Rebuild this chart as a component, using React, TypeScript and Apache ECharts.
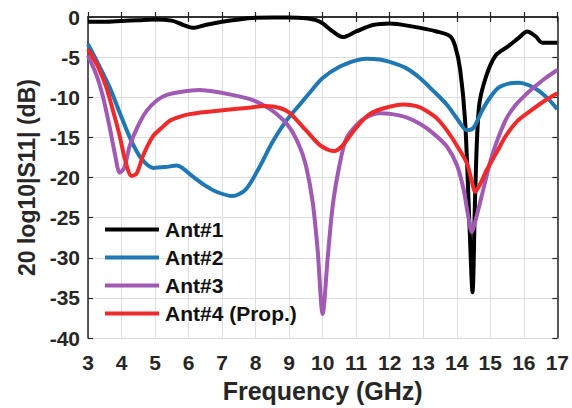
import React, { useEffect, useRef } from "react";
import * as echarts from "echarts";

const seriesNames = ["Ant#1", "Ant#2", "Ant#3", "Ant#4 (Prop.)"];
const seriesColors = ["#000000", "#1f77b4", "#a05ab4", "#ee2a2a"];

const ant1Freq = [3.0, 3.5, 4.0, 4.5, 5.0, 5.5, 5.85, 6.15, 6.5, 7.0, 7.5, 8.0, 8.5, 9.0, 9.5, 9.8, 10.0, 10.3, 10.6, 11.0, 11.5, 12.0, 12.7, 13.4, 13.8, 13.95, 14.1, 14.25, 14.38, 14.47, 14.55, 14.66, 14.86, 15.16, 15.55, 15.85, 16.1, 16.35, 16.55, 17.0];
const ant1S11 = [-0.6, -0.6, -0.5, -0.4, -0.3, -0.45, -1.0, -1.35, -1.0, -0.6, -0.3, -0.1, -0.05, -0.05, -0.15, -0.4, -0.8, -1.8, -2.5, -1.8, -1.0, -0.8, -1.2, -1.8, -2.4, -3.6, -6.5, -13, -26, -34.3, -22, -11.3, -7.6, -4.8, -3.6, -2.6, -1.8, -2.4, -3.2, -3.2];

const ant2Freq = [3.0, 3.3, 3.65, 4.0, 4.3, 4.6, 4.95, 5.3, 5.65, 6.1, 6.5, 6.85, 7.3, 7.7, 8.1, 8.5, 8.9, 9.3, 9.7, 10.0, 10.5, 11.0, 11.3, 11.7, 12.0, 12.5, 12.9, 13.3, 13.7, 14.0, 14.3, 14.5, 14.75, 15.0, 15.25, 15.55, 15.85, 16.15, 16.45, 16.75, 17.0];
const ant2S11 = [-3.4, -5.8, -8.8, -12.5, -15.5, -17.7, -18.8, -18.7, -18.5, -19.8, -21.0, -21.8, -22.3, -21.5, -18.8, -15.6, -13.0, -11.0, -9.0, -7.6, -6.2, -5.4, -5.2, -5.3, -5.6, -6.4, -7.6, -9.2, -10.9, -12.6, -14.1, -13.8, -11.7, -10.0, -8.8, -8.3, -8.2, -8.5, -9.2, -10.3, -11.5];

const ant3Freq = [3.0, 3.25, 3.45, 3.65, 3.8, 3.95, 4.08, 4.25, 4.5, 4.75, 5.05, 5.35, 5.8, 6.33, 6.8, 7.3, 7.8, 8.2, 8.6, 9.0, 9.3, 9.5, 9.7, 9.85, 10.0, 10.15, 10.3, 10.5, 10.7, 11.0, 11.3, 11.7, 12.07, 12.5, 12.9, 13.3, 13.7, 14.0, 14.2, 14.35, 14.45, 14.55, 14.75, 15.05, 15.45, 15.75, 16.05, 16.35, 16.65, 17.0];
const ant3S11 = [-4.8, -7.2, -10.0, -13.8, -17.0, -19.4, -18.8, -16.0, -13.5, -11.7, -10.4, -9.7, -9.3, -9.1, -9.3, -9.7, -10.2, -10.9, -12.0, -13.7, -16.0, -18.5, -23.0, -29.0, -37.0, -30.0, -23.5, -18.5, -15.2, -13.5, -12.5, -12.0, -12.1, -12.5, -13.3, -14.5, -16.1, -18.4, -21.4, -25.0, -26.8, -25.5, -22.2, -17.3, -12.9, -11.0, -9.7, -8.6, -7.6, -6.6];

const ant4Freq = [3.0, 3.3, 3.55, 3.8, 3.95, 4.12, 4.3, 4.45, 4.65, 4.93, 5.2, 5.45, 5.75, 6.03, 6.6, 7.3, 7.8, 8.3, 8.7, 9.0, 9.5, 9.9, 10.2, 10.35, 10.55, 10.8, 11.1, 11.4, 11.8, 12.4, 12.8, 13.1, 13.4, 13.7, 14.0, 14.3, 14.45, 14.55, 14.7, 14.9, 15.2, 15.45, 15.8, 16.2, 16.6, 17.0];
const ant4S11 = [-4.0, -6.2, -8.8, -12.5, -14.9, -18.0, -19.8, -19.5, -17.2, -14.9, -13.8, -12.9, -12.4, -12.1, -11.8, -11.5, -11.3, -11.1, -11.3, -11.9, -14.1, -15.9, -16.6, -16.7, -16.2, -14.9, -13.3, -12.1, -11.4, -10.9, -11.1, -11.7, -12.6, -14.1, -16.0, -18.2, -20.5, -21.8, -20.8, -19.0, -16.8, -14.9, -13.0, -11.7, -10.5, -9.5];

const xTicks = { min: 3, max: 17, interval: 1 };
const yTicks = { min: -40, max: 0, interval: 5 };

const FONT = "'Liberation Sans', Arial, sans-serif";
const TEXT = "#262626";

function pairs(xs: number[], ys: number[]) {
  return xs.map((x, i) => [x, ys[i]]);
}

export default function App() {
  const ref = useRef<HTMLDivElement>(null);
  useEffect(() => {
    document.body.style.margin = "0";
    if (!ref.current) return;
    const chart = echarts.init(ref.current, undefined, { renderer: "svg" });
    const allData = [
      pairs(ant1Freq, ant1S11),
      pairs(ant2Freq, ant2S11),
      pairs(ant3Freq, ant3S11),
      pairs(ant4Freq, ant4S11),
    ];
    const boxAxis = {
      axisLine: { show: true, lineStyle: { color: TEXT, width: 1.5 } },
      axisTick: { show: true, inside: true, length: 5, lineStyle: { color: TEXT, width: 1.2 } },
      axisLabel: { show: false },
      splitLine: { show: false },
    };
    chart.setOption({
      animation: false,
      backgroundColor: "#ffffff",
      grid: { left: 88, right: 13, top: 17, bottom: 61 },
      legend: {
        orient: "vertical",
        left: 105,
        top: 219,
        padding: 0,
        icon: "rect",
        itemWidth: 54,
        itemHeight: 4,
        itemGap: 7,
        data: seriesNames,
        textStyle: { fontFamily: FONT, fontWeight: "bold", fontSize: 21, color: "#111", lineHeight: 21, padding: [0, 0, 0, 1] },
      },
      xAxis: [
        {
          type: "value",
          min: xTicks.min,
          max: xTicks.max,
          interval: xTicks.interval,
          name: "Frequency (GHz)",
          nameLocation: "middle",
          nameGap: 33,
          nameTextStyle: { fontFamily: FONT, fontWeight: "bold", fontSize: 25, color: TEXT },
          axisLine: { show: true, lineStyle: { color: TEXT, width: 1.5 } },
          axisTick: { show: true, inside: true, length: 5, lineStyle: { color: TEXT, width: 1.2 } },
          axisLabel: { fontFamily: FONT, fontWeight: "bold", fontSize: 21, color: TEXT, margin: 14 },
          splitLine: { show: true, lineStyle: { color: "#dedede", width: 1 } },
        },
        { type: "value", position: "top", min: xTicks.min, max: xTicks.max, interval: xTicks.interval, ...boxAxis },
      ],
      yAxis: [
        {
          type: "value",
          min: yTicks.min,
          max: yTicks.max,
          interval: yTicks.interval,
          name: "20 log10|S11| (dB)",
          nameLocation: "middle",
          nameGap: 50,
          nameTextStyle: { fontFamily: FONT, fontWeight: "bold", fontSize: 23, color: TEXT },
          axisLine: { show: true, lineStyle: { color: TEXT, width: 1.5 } },
          axisTick: { show: true, inside: true, length: 5, lineStyle: { color: TEXT, width: 1.2 } },
          axisLabel: { fontFamily: FONT, fontWeight: "bold", fontSize: 21, color: TEXT, margin: 8 },
          splitLine: { show: true, lineStyle: { color: "#dedede", width: 1 } },
        },
        { type: "value", position: "right", min: yTicks.min, max: yTicks.max, interval: yTicks.interval, ...boxAxis },
      ],
      series: seriesNames.map((name, i) => ({
        name,
        type: "line",
        data: allData[i],
        smooth: 0.3,
        showSymbol: false,
        symbol: "none",
        color: seriesColors[i],
        lineStyle: { width: 4, color: seriesColors[i] },
        z: 2 + i,
      })),
    });
    return () => chart.dispose();
  }, []);
  return <div ref={ref} style={{ width: 572, height: 408 }} />;
}
